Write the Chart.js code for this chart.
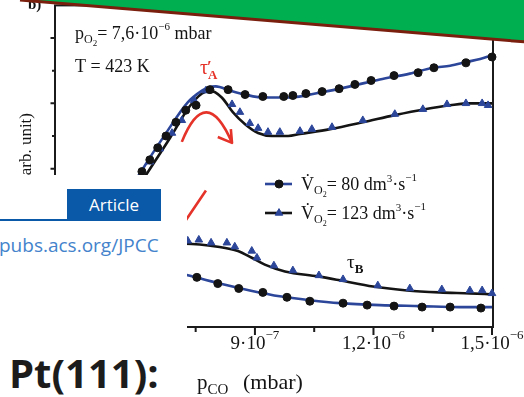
<!DOCTYPE html>
<html>
<head>
<meta charset="utf-8">
<script src="https://cdn.jsdelivr.net/npm/chart.js@4"></script>
<style>
  html, body { margin: 0; padding: 0; background: #fff; overflow: hidden; }
  #wrap { position: relative; width: 524px; height: 397px; }
  #chart { position: absolute; left: 0; top: 0; }
  #banner { position: absolute; left: 0; top: 0; }
  #panel { position: absolute; left: 0; top: 175px; width: 187px; height: 222px; background: #fff;
           font-family: "Open Sans", "Noto Sans", sans-serif; }
  #panel .rule { position: absolute; left: 0; top: 44px; width: 67px; height: 2px; background: #0a58a8; }
  #panel .tag { position: absolute; left: 67px; top: 14px; width: 94px; height: 32px; background: #0a58a8;
                color: #fff; font-size: 17px; line-height: 31px; text-align: center; }
  #panel .url { position: absolute; left: -1px; top: 58px; color: #4483cc; font-size: 19px; line-height: 24px; white-space: nowrap; }
  #panel .title { position: absolute; left: 9px; top: 176px; color: #1c1c1c; font-size: 40px; font-weight: 700;
                  line-height: 44px; white-space: nowrap; }
</style>
</head>
<body>
<div id="wrap">
  <canvas id="chart" width="524" height="397"></canvas>
  <svg id="banner" width="524" height="60">
    <polygon points="20,-4 524,-4 524,42 20,0" fill="#00b050"/>
    <line x1="20" y1="0" x2="526" y2="42" stroke="#7a1e0e" stroke-width="3"/>
  </svg>
  <div id="panel">
    <div class="rule"></div>
    <div class="tag">Article</div>
    <div class="url">pubs.acs.org/JPCC</div>
    <div class="title">Pt(111):</div>
  </div>
</div>
<script>
const xTicks = [6e-7, 7.5e-7, 9e-7, 10.5e-7, 12e-7, 13.5e-7, 15e-7];
const xLabelled = [6e-7, 9e-7, 12e-7, 15e-7];
const yTicks = [1, 2, 3, 4, 5, 6, 7, 8, 9];

// V̇O2 = 80 dm³·s⁻¹, upper branch (τ'A): measured points and fit
const tauA80Pts = [
  [5.08e-7, 2.85], [5.58e-7, 3.85], [6.14e-7, 4.91], [6.34e-7, 5.27], [6.54e-7, 5.64],
  [6.75e-7, 6.00], [7.00e-7, 6.42], [7.25e-7, 6.79], [7.51e-7, 6.94], [7.86e-7, 7.42],
  [8.32e-7, 7.42], [8.75e-7, 7.27], [9.20e-7, 7.21], [9.73e-7, 7.21], [9.96e-7, 7.24],
  [10.29e-7, 7.30], [10.70e-7, 7.36], [11.13e-7, 7.45], [11.53e-7, 7.58], [11.94e-7, 7.70],
  [12.52e-7, 7.85], [13.13e-7, 7.94], [13.53e-7, 8.09], [14.34e-7, 8.24], [15.0e-7, 8.42]
];
const tauA80Fit = [
  [5.08e-7, 2.79], [6.04e-7, 4.76], [6.80e-7, 6.18], [7.30e-7, 7.03], [7.66e-7, 7.39],
  [7.81e-7, 7.48], [8.01e-7, 7.52], [8.37e-7, 7.39], [8.75e-7, 7.27], [9.18e-7, 7.18],
  [9.89e-7, 7.18], [10.65e-7, 7.33], [11.41e-7, 7.52], [12.16e-7, 7.73], [12.92e-7, 7.91],
  [13.51e-7, 8.09], [13.94e-7, 8.15], [14.37e-7, 8.27], [14.70e-7, 8.36], [15.0e-7, 8.47]
];

// V̇O2 = 123 dm³·s⁻¹, upper branch (τ'A)
const tauA123Pts = [
  [5.20e-7, 3.03], [5.71e-7, 4.00], [6.34e-7, 5.21], [6.59e-7, 5.61], [6.90e-7, 6.09],
  [7.15e-7, 6.48], [7.46e-7, 7.09], [7.76e-7, 7.39], [8.42e-7, 6.97], [8.62e-7, 6.73],
  [8.87e-7, 6.39], [9.08e-7, 6.24], [9.33e-7, 6.12], [9.63e-7, 6.12], [10.14e-7, 6.15],
  [10.44e-7, 6.21], [10.95e-7, 6.27], [11.73e-7, 6.48], [12.54e-7, 6.67], [13.25e-7, 6.82],
  [13.86e-7, 6.97], [14.34e-7, 7.00], [14.75e-7, 7.00], [14.90e-7, 6.94]
];
const tauA123Fit = [
  [5.33e-7, 3.09], [6.22e-7, 4.76], [6.85e-7, 5.94], [7.35e-7, 6.91], [7.66e-7, 7.30],
  [7.86e-7, 7.39], [8.16e-7, 7.18], [8.44e-7, 6.73], [8.75e-7, 6.36], [9.08e-7, 6.09],
  [9.43e-7, 6.00], [9.84e-7, 6.00], [10.14e-7, 6.06], [10.90e-7, 6.21], [11.73e-7, 6.42],
  [12.54e-7, 6.64], [13.30e-7, 6.82], [13.94e-7, 6.94], [14.44e-7, 7.00], [15.0e-7, 7.00]
];

// lower branch (τB)
const tauB123Pts = [
  [6.59e-7, 2.79], [6.97e-7, 2.79], [7.30e-7, 2.79], [7.58e-7, 2.82], [7.89e-7, 2.73],
  [8.29e-7, 2.73], [8.49e-7, 2.61], [8.92e-7, 2.48], [9.05e-7, 2.27], [9.48e-7, 2.03],
  [9.96e-7, 1.88], [10.62e-7, 1.73], [11.23e-7, 1.61], [12.11e-7, 1.42], [12.92e-7, 1.33],
  [13.73e-7, 1.30], [14.44e-7, 1.27], [14.75e-7, 1.27], [15.0e-7, 1.18]
];
const tauB123Fit = [
  [6.59e-7, 2.70], [7.23e-7, 2.70], [8.06e-7, 2.61], [8.57e-7, 2.48], [8.92e-7, 2.27],
  [9.25e-7, 2.06], [9.76e-7, 1.85], [10.59e-7, 1.70], [11.15e-7, 1.58], [11.99e-7, 1.39],
  [12.85e-7, 1.27], [13.68e-7, 1.21], [14.44e-7, 1.18], [15.0e-7, 1.15]
];
const tauB80Pts = [
  [6.47e-7, 2.00], [7.00e-7, 1.85], [7.53e-7, 1.67], [8.06e-7, 1.48], [8.59e-7, 1.33],
  [9.20e-7, 1.21], [9.81e-7, 1.06], [10.39e-7, 0.94], [11.23e-7, 0.88], [11.84e-7, 0.82],
  [12.52e-7, 0.79], [13.23e-7, 0.76], [13.94e-7, 0.76], [14.72e-7, 0.73]
];
const tauB80Fit = [
  [6.34e-7, 2.03], [7.23e-7, 1.76], [8.11e-7, 1.48], [8.87e-7, 1.27], [9.63e-7, 1.09],
  [10.39e-7, 0.97], [11.15e-7, 0.88], [12.16e-7, 0.82], [13.18e-7, 0.79], [14.19e-7, 0.76],
  [15.0e-7, 0.76]
];

// red arrows: arc start, control, tip, two barbs; then the τB stroke
const arrowA = [[7.15e-7, 5.82], [7.76e-7, 7.64], [8.42e-7, 5.79], [8.39e-7, 6.21], [8.06e-7, 5.97]];
const strokeB = [[6.90e-7, 2.79], [7.76e-7, 4.33]];

const BLUE = '#2c4699';
const INK = '#141414';
const RED = '#e5332a';
const SERIF = '"Liberation Serif", "Times New Roman", serif';
const DOT_R = 4;
const TRI_R = 4.4;

const xy = pts => pts.map(([x, y]) => ({ x, y }));

function fitLine(pts, color) {
  return { data: xy(pts), borderColor: color, borderWidth: 2.6, pointRadius: 0,
           cubicInterpolationMode: 'monotone', fill: false, order: 2 };
}
function markers(pts, style, color, r) {
  return { data: xy(pts), showLine: false, pointStyle: style, pointRadius: r, clip: false,
           pointBackgroundColor: color, pointBorderColor: color, pointBorderWidth: 1, order: 1 };
}

// draws a row of text pieces: [text, size, dy, weight]
function runs(ctx, x, y, parts) {
  parts.forEach(([text, size, dy = 0, weight = '']) => {
    ctx.font = `${weight} ${size}px ${SERIF}`;
    ctx.fillText(text, x, y + dy);
    x += ctx.measureText(text).width;
  });
  return x;
}

function tickParts(v) {
  const exp = Math.floor(Math.log10(v) + 1e-9);
  const mant = +(v / Math.pow(10, exp)).toFixed(1);
  return [[String(mant).replace('.', ',') + '·10', 19], ['\u2212' + Math.abs(exp), 13, -10]];
}

function partsWidth(ctx, parts) {
  return parts.reduce((w, [text, size, , weight = '']) => {
    ctx.font = `${weight} ${size}px ${SERIF}`;
    return w + ctx.measureText(text).width;
  }, 0);
}

const frame = {
  id: 'frame',
  beforeDatasetsDraw(chart) {
    const { ctx, chartArea: a, scales: { x, y } } = chart;
    ctx.save();
    ctx.strokeStyle = '#1b1b1b';
    ctx.lineWidth = 2;
    ctx.strokeRect(a.left, a.top, a.right - a.left, a.bottom - a.top);
    ctx.beginPath();
    x.ticks.forEach(t => {
      const px = x.getPixelForValue(t.value);
      const len = xLabelled.includes(t.value) ? 8 : 5;
      ctx.moveTo(px, a.bottom); ctx.lineTo(px, a.bottom + len);
    });
    y.ticks.forEach(t => {
      const py = y.getPixelForValue(t.value);
      const len = t.value % 2 ? 4.5 : 3;
      ctx.moveTo(a.left - len, py); ctx.lineTo(a.left, py);
    });
    ctx.stroke();

    // red arrows
    const p = ([vx, vy]) => [x.getPixelForValue(vx), y.getPixelForValue(vy)];
    const [s, c, tip, b1, b2] = arrowA.map(p);
    ctx.strokeStyle = RED;
    ctx.lineWidth = 2.6;
    ctx.lineJoin = 'round';
    ctx.beginPath();
    ctx.moveTo(...s); ctx.quadraticCurveTo(...c, ...tip);
    ctx.moveTo(...b1); ctx.lineTo(...tip); ctx.lineTo(...b2);
    const [k0, k1] = strokeB.map(p);
    ctx.moveTo(...k0); ctx.lineTo(...k1);
    ctx.stroke();
    ctx.restore();
  },
  afterDraw(chart) {
    const { ctx, chartArea: a, scales: { x } } = chart;
    ctx.save();
    ctx.fillStyle = INK;
    ctx.textBaseline = 'alphabetic';

    // x tick labels
    x.ticks.forEach(t => {
      if (!xLabelled.includes(t.value)) return;
      const parts = tickParts(t.value);
      const px = x.getPixelForValue(t.value);
      runs(ctx, px - partsWidth(ctx, parts) / 2, a.bottom + 22, parts);
    });

    // axis titles
    runs(ctx, 197, 389, [['p', 21], ['CO', 15, 5]]);
    runs(ctx, 243, 389, [['(mbar)', 22]]);
    ctx.save();
    ctx.translate(31, 113);
    ctx.rotate(-Math.PI / 2);
    ctx.font = `17px ${SERIF}`;
    ctx.textAlign = 'right';
    ctx.fillText('\u03c4 (arb. unit)', 0, 0);
    ctx.restore();

    runs(ctx, 28, 9, [['b)', 15, 0, 'bold']]);

    // conditions
    runs(ctx, 75, 39, [['p', 18], ['O', 12, 4], ['2', 9, 7], ['= 7,6·10', 18], ['\u22126', 11, -9], [' mbar', 18]]);
    runs(ctx, 75, 72, [['T = 423 K', 18]]);

    // branch labels
    ctx.fillStyle = RED;
    const tx = runs(ctx, 200, 74, [['\u03c4', 20]]);
    runs(ctx, tx - 1, 72, [['\u2032', 17, 0, 'bold']]);
    runs(ctx, tx, 79, [['A', 13, 0, 'bold']]);
    ctx.fillStyle = INK;
    runs(ctx, 347, 268, [['\u03c4', 19], ['B', 13, 5, 'bold']]);

    // legend
    const rows = [
      { y: 184, line: BLUE, mark: 'circle', mc: INK, r: DOT_R, flow: '80' },
      { y: 213, line: INK, mark: 'triangle', mc: BLUE, r: TRI_R, flow: '123' }
    ];
    rows.forEach(r => {
      ctx.strokeStyle = r.line;
      ctx.lineWidth = 2.6;
      ctx.beginPath(); ctx.moveTo(265, r.y); ctx.lineTo(292, r.y); ctx.stroke();
      ctx.fillStyle = r.mc; ctx.strokeStyle = r.mc; ctx.lineWidth = 1;
      Chart.helpers.drawPoint(ctx, { pointStyle: r.mark, radius: r.r, rotation: 0, borderWidth: 1 }, 279, r.y);
      ctx.fillStyle = INK;
      runs(ctx, 301, r.y + 6, [['V\u0307', 18], ['O', 12, 4], ['2', 8, 7], ['= ' + r.flow + ' dm', 18], ['3', 11, -8], ['·s', 18], ['\u22121', 11, -9]]);
    });
    ctx.restore();
  }
};

new Chart(document.getElementById('chart'), {
  type: 'line',
  data: {
    datasets: [
      fitLine(tauA80Fit, BLUE),
      fitLine(tauA123Fit, INK),
      fitLine(tauB123Fit, INK),
      fitLine(tauB80Fit, BLUE),
      markers(tauA80Pts, 'circle', INK, DOT_R),
      markers(tauA123Pts, 'triangle', BLUE, TRI_R),
      markers(tauB123Pts, 'triangle', BLUE, TRI_R),
      markers(tauB80Pts, 'circle', INK, DOT_R)
    ]
  },
  options: {
    responsive: false,
    devicePixelRatio: 1,
    animation: false,
    layout: { padding: { left: 51, right: 31, top: 2, bottom: 0 } },
    plugins: { legend: { display: false }, tooltip: { enabled: false } },
    scales: {
      x: {
        type: 'linear', min: 3.94e-7, max: 15.025e-7,
        grid: { display: false }, border: { display: false }, ticks: { display: false },
        afterBuildTicks: s => { s.ticks = xTicks.map(value => ({ value })); },
        afterFit: s => { s.height = 70; s.paddingLeft = 0; s.paddingRight = 0; }
      },
      y: {
        type: 'linear', min: 0.15, max: 10,
        grid: { display: false }, border: { display: false }, ticks: { display: false },
        afterBuildTicks: s => { s.ticks = yTicks.map(value => ({ value })); },
        afterFit: s => { s.width = 4; }
      }
    }
  },
  plugins: [frame]
});
</script>
</body>
</html>
